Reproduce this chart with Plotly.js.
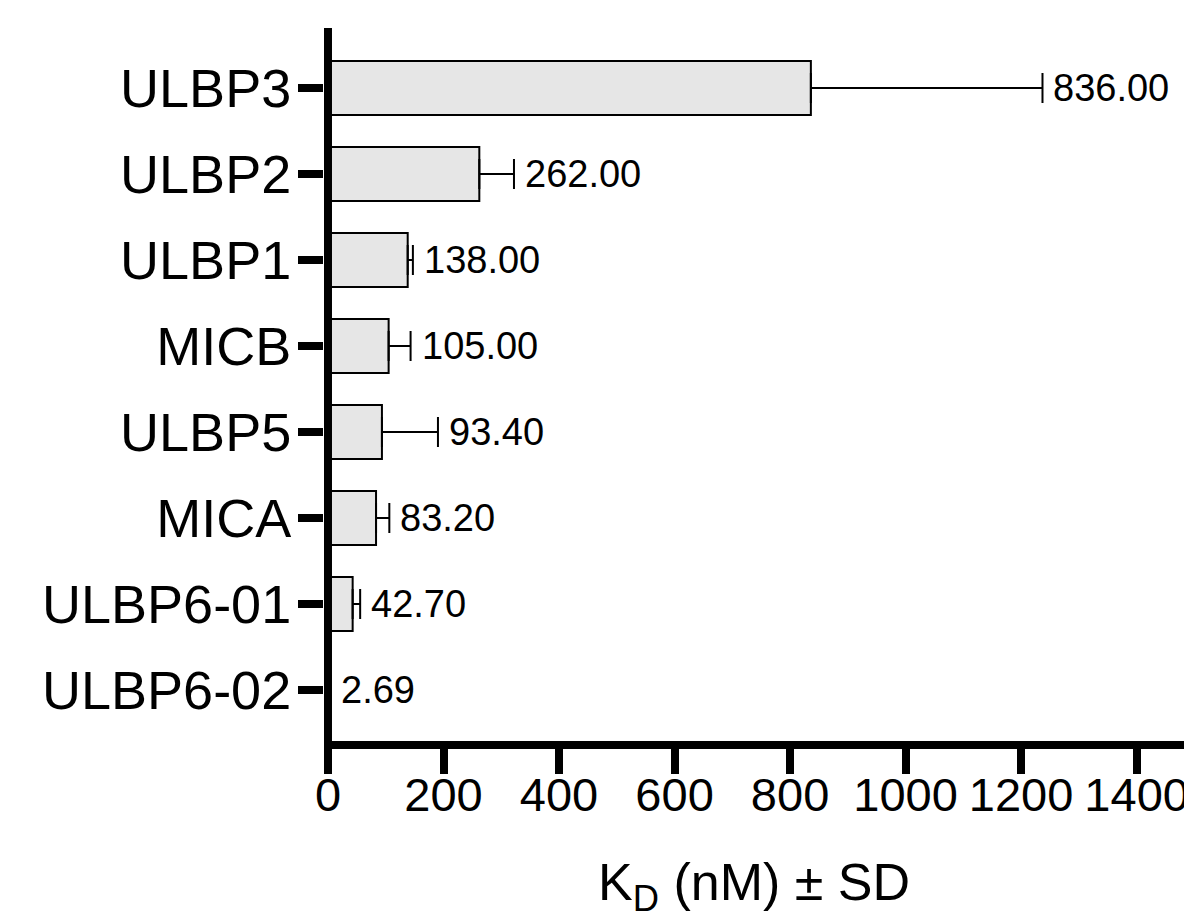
<!DOCTYPE html>
<html>
<head>
<meta charset="utf-8">
<script src="https://cdn.plot.ly/plotly-3.0.1.min.js"></script>
<style>
  html, body { margin: 0; padding: 0; background: #ffffff; overflow: hidden; }
  #chart { width: 1184px; height: 919px; }
</style>
</head>
<body>
<div id="chart"></div>
<script>
// Data
const categories = ["ULBP3", "ULBP2", "ULBP1", "MICB", "ULBP5", "MICA", "ULBP6-01", "ULBP6-02"];
const kdValues   = [836.00, 262.00, 138.00, 105.00, 93.40, 83.20, 42.70, 2.69];
const sdValues   = [401, 60, 9, 38, 97, 23, 13, 1.5];
const valueLabels = ["836.00", "262.00", "138.00", "105.00", "93.40", "83.20", "42.70", "2.69"];
const xTickVals = [0, 200, 400, 600, 800, 1000, 1200, 1400];

const FONT = "Liberation Sans, Arial, Helvetica, sans-serif";

const trace = {
  type: "bar",
  orientation: "h",
  y: categories,
  x: kdValues,
  marker: { color: "#e6e6e6", line: { color: "#000000", width: 2 } },
  error_x: {
    type: "data",
    symmetric: false,
    array: sdValues,
    arrayminus: sdValues.map(() => 0),
    color: "#000000",
    thickness: 2,
    width: 15
  },
  hoverinfo: "none"
};

const annotations = categories.map((c, i) => ({
  x: kdValues[i] + sdValues[i],
  y: c,
  xref: "x",
  yref: "y",
  text: valueLabels[i],
  showarrow: false,
  xanchor: "left",
  yanchor: "middle",
  xshift: 9,
  yshift: 0,
  font: { family: FONT, size: 38, color: "#000000" }
}));

const layout = {
  width: 1184,
  height: 919,
  margin: { l: 324, r: 0, t: 28, b: 178, pad: 0 },
  paper_bgcolor: "#ffffff",
  plot_bgcolor: "#ffffff",
  showlegend: false,
  bargap: 0.372,
  font: { family: FONT, color: "#000000" },
  xaxis: {
    range: [-6.9, 1482],
    tickvals: xTickVals,
    ticktext: xTickVals.map(String),
    showgrid: false,
    zeroline: false,
    showline: true,
    linecolor: "#000000",
    linewidth: 8,
    ticks: "outside",
    ticklen: 25,
    tickwidth: 8,
    tickcolor: "#000000",
    tickfont: { family: FONT, size: 47, color: "#000000" },
    ticklabelstandoff: -19,
    ticklabeloverflow: "allow",
    title: {
      text: "K<sub>D</sub> (nM) ± SD",
      font: { family: FONT, size: 52, color: "#000000" },
      standoff: 61
    },
    automargin: false,
    fixedrange: true
  },
  yaxis: {
    type: "category",
    categoryorder: "array",
    categoryarray: categories,
    range: [7.593, -0.698],
    showgrid: false,
    zeroline: false,
    showline: false,
    ticks: "outside",
    ticklen: 25,
    tickwidth: 8,
    tickcolor: "#000000",
    tickfont: { family: FONT, size: 54, color: "#000000" },
    ticklabelstandoff: -4,
    automargin: false,
    fixedrange: true
  },
  // vertical axis line drawn at x = 0 (the value axis origin)
  shapes: [{
    type: "line",
    xref: "x",
    yref: "paper",
    x0: 0, x1: 0,
    y0: 0, y1: 1,
    layer: "above",
    line: { color: "#000000", width: 8 }
  }],
  annotations: annotations
};

Plotly.newPlot("chart", [trace], layout, { displayModeBar: false, staticPlot: true });
</script>
</body>
</html>
